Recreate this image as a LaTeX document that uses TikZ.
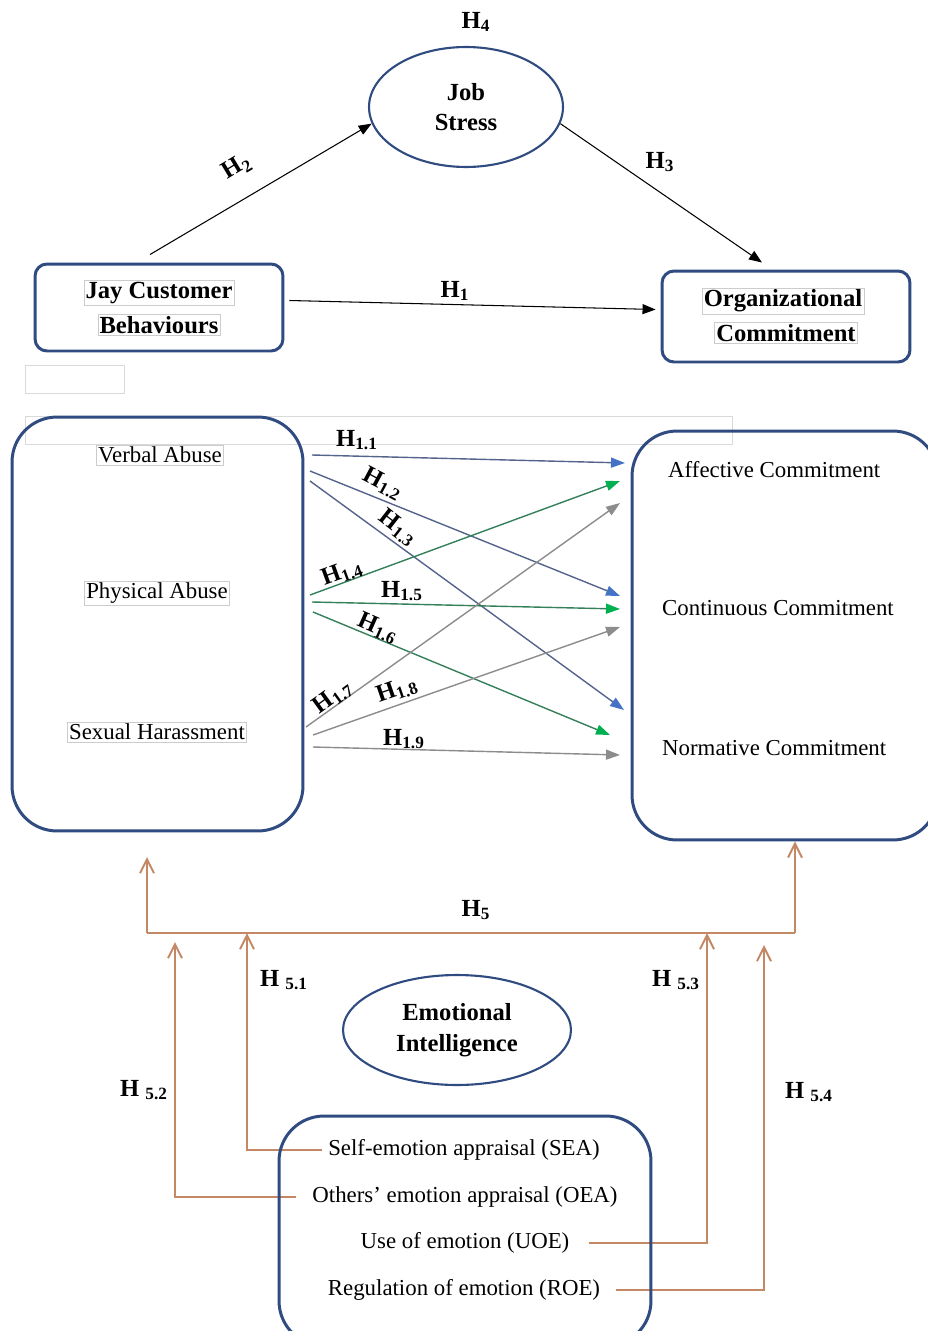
\documentclass[tikz,border=0pt]{standalone}
\usepackage{fontspec}
\setmainfont{Liberation Serif}
\usetikzlibrary{arrows.meta,shapes.geometric}
\pgfdeclarelayer{edgelayer}
\pgfdeclarelayer{nodelayer}
\pgfsetlayers{edgelayer,nodelayer,main}
\definecolor{frameblue}{RGB}{47,75,128}
\definecolor{slateline}{RGB}{84,100,140}
\definecolor{bluehead}{RGB}{68,114,196}
\definecolor{greenline}{RGB}{52,128,90}
\definecolor{greenhead}{RGB}{0,176,80}
\definecolor{greyline}{RGB}{140,140,140}
\definecolor{moderator}{RGB}{196,136,100}
\tikzstyle{none} = []
\tikzstyle{plain} = [font=\fontsize{13}{16}\selectfont]
\tikzstyle{txtbox} = [draw=black!20, line width=0.3pt, inner sep=1pt, font=\fontsize{13}{16}\selectfont]
\tikzstyle{bold} = [font=\bfseries\fontsize{14}{17.5}\selectfont]
\tikzstyle{hyp} = [font=\bfseries\fontsize{14}{17}\selectfont, inner sep=0pt]
\tikzstyle{blank} = [draw=black!15, line width=0.4pt, inner sep=0pt]
\tikzstyle{smallbox} = [draw=frameblue, line width=1.7pt, rounded corners=0.24cm]
\tikzstyle{bigbox} = [draw=frameblue, line width=1.7pt, rounded corners=0.9cm]
\tikzstyle{oval} = [draw=frameblue, line width=1.2pt, ellipse, inner sep=0pt]
\tikzstyle{blackarrow} = [line width=0.6pt, -{Triangle[length=0.26cm,width=0.2cm]}]
\tikzstyle{bluearrow} = [draw=slateline, line width=0.8pt, -{Triangle[length=0.28cm,width=0.2cm,color=bluehead]}]
\tikzstyle{greenarrow} = [draw=greenline, line width=0.8pt, -{Triangle[length=0.28cm,width=0.2cm,color=greenhead]}]
\tikzstyle{greyarrow} = [draw=greyline, line width=0.8pt, -{Triangle[length=0.28cm,width=0.2cm,color=greyline]}]
\tikzstyle{modline} = [draw=moderator, line width=1.1pt]
\tikzstyle{modarrow} = [draw=moderator, line width=1.1pt, -{Straight Barb[length=0.28cm,width=0.28cm]}]

\begin{document}
\begin{tikzpicture}[x=0.02cm, y=-0.02cm]
	\useasboundingbox (0,0) rectangle (928,1331);
	\clip (0,0) rectangle (928,1331);
	\begin{pgfonlayer}{nodelayer}
		% model
		\node [hyp] (h4) at (476,22) {H\textsubscript{4}};
		\node [oval, bold, align=center, minimum width=3.88cm, minimum height=2.4cm] (js) at (466,107) {Job\\Stress};
		\node [smallbox, minimum width=4.96cm, minimum height=1.74cm] (jcb) at (159,307.5) {};
		\node [txtbox, bold] (jcb1) at (159,293) {Jay Customer};
		\node [txtbox, bold] (jcb2) at (159,325) {Behaviours};
		\node [smallbox, minimum width=4.96cm, minimum height=1.82cm] (oc) at (786,316.5) {};
		\node [txtbox, bold] (oc1) at (783,301) {Organizational};
		\node [txtbox, bold] (oc2) at (786,333) {Commitment};
		\node [hyp, rotate=31] (h2) at (237,167) {H\textsubscript{2}};
		\node [hyp] (h3) at (660,162) {H\textsubscript{3}};
		\node [hyp] (h1) at (455,291) {H\textsubscript{1}};

		\node [blank, minimum width=1.98cm, minimum height=0.56cm] (blank1) at (74.5,379) {};

		% dimensions
		\node [bigbox, minimum width=5.82cm, minimum height=8.28cm] (cb) at (157.5,624) {};
		\node [txtbox] (va) at (160,455) {Verbal Abuse};
		\node [txtbox] (pa) at (157,593) {Physical Abuse};
		\node [txtbox] (sh) at (157,732) {Sexual Harassment};
		\node [bigbox, minimum width=6.12cm, minimum height=8.18cm] (ocb) at (785,635.5) {};
		\node [plain, anchor=west] (ac) at (662,470) {Affective Commitment};
		\node [plain, anchor=west] (cc) at (656,608) {Continuous Commitment};
		\node [plain, anchor=west] (nc) at (656,748) {Normative Commitment};

		\coordinate (s11) at (312,455);
		\coordinate (e11) at (625,463);
		\coordinate (s12) at (310,471);
		\coordinate (e12) at (620,596);
		\coordinate (s13) at (310,481);
		\coordinate (e13) at (624,710);
		\coordinate (s14) at (310,595);
		\coordinate (e14) at (620,481);
		\coordinate (s15) at (312,602);
		\coordinate (e15) at (620,609);
		\coordinate (s16) at (313,612);
		\coordinate (e16) at (610,735);
		\coordinate (s17) at (306,727);
		\coordinate (e17) at (620,503);
		\coordinate (s18) at (313,735);
		\coordinate (e18) at (620,627);
		\coordinate (s19) at (313,747);
		\coordinate (e19) at (620,755);

		\node [hyp] (h11) at (357,440) {H\textsubscript{1.1}};
		\node [hyp, rotate=-28] (h12) at (383,484) {H\textsubscript{1.2}};
		\node [hyp, rotate=-38] (h13) at (398,528) {H\textsubscript{1.3}};
		\node [hyp, rotate=20] (h14) at (342,573) {H\textsubscript{1.4}};
		\node [hyp] (h15) at (402,591) {H\textsubscript{1.5}};
		\node [hyp, rotate=-24] (h16) at (378,628) {H\textsubscript{1.6}};
		\node [hyp, rotate=36] (h17) at (333,697) {H\textsubscript{1.7}};
		\node [hyp, rotate=19] (h18) at (397,690) {H\textsubscript{1.8}};
		\node [hyp] (h19) at (404,739) {H\textsubscript{1.9}};

		% moderator
		\coordinate (hl) at (147,933);
		\coordinate (hr) at (795,933);
		\coordinate (t51) at (247,933);
		\coordinate (t52) at (175,942);
		\coordinate (t53) at (707,933);
		\coordinate (t54) at (764,945);
		\node [hyp] (h5) at (476,910) {H\textsubscript{5}};
		\node [hyp] (h51) at (284,980) {H \textsubscript{5.1}};
		\node [hyp] (h52) at (144,1090) {H \textsubscript{5.2}};
		\node [hyp] (h53) at (676,980) {H \textsubscript{5.3}};
		\node [hyp] (h54) at (809,1092) {H \textsubscript{5.4}};
		\node [oval, bold, align=center, minimum width=4.56cm, minimum height=2.2cm] (ei) at (457,1030) {Emotional\\Intelligence};
		\node [bigbox, minimum width=7.44cm, minimum height=4.6cm] (eib) at (465,1231) {};
		\node [plain] (sea) at (464,1150) {Self-emotion appraisal (SEA)};
		\node [plain] (oea) at (465,1197) {Others’ emotion appraisal (OEA)};
		\node [plain] (uoe) at (465,1243) {Use of emotion (UOE)};
		\node [plain] (roe) at (464,1290) {Regulation of emotion (ROE)};
	\end{pgfonlayer}
	\begin{pgfonlayer}{edgelayer}
		\node [blank, minimum width=14.14cm, minimum height=0.56cm] (blank2) at (378.5,430) {};
		\draw [blackarrow] ([shift={(-9,-8)}]jcb.north) to (js.190);
		\draw [blackarrow] (js.-10) to ([shift={(-24,-7)}]oc.north);
		\draw [blackarrow] ([shift={(5,-7)}]jcb.east) to ([shift={(-5,-7)}]oc.west);

		\draw [bluearrow] (s11) to (e11);
		\draw [bluearrow] (s12) to (e12);
		\draw [bluearrow] (s13) to (e13);
		\draw [greenarrow] (s14) to (e14);
		\draw [greenarrow] (s15) to (e15);
		\draw [greenarrow] (s16) to (e16);
		\draw [greyarrow] (s17) to (e17);
		\draw [greyarrow] (s18) to (e18);
		\draw [greyarrow] (s19) to (e19);

		\draw [modline] (hl) to (hr);
		\draw [modarrow] (hl) to ++(0,-76);
		\draw [modarrow] (hr) to (hr |- ocb.south);
		\draw [modarrow] (sea.west) -| (t51);
		\draw [modarrow] ([xshift=-0.2cm]oea.west) -| (t52);
		\draw [modarrow] ([xshift=0.26cm]uoe.east) -| (t53);
		\draw [modarrow] ([xshift=0.2cm]roe.east) -| (t54);
	\end{pgfonlayer}
\end{tikzpicture}
\end{document}
